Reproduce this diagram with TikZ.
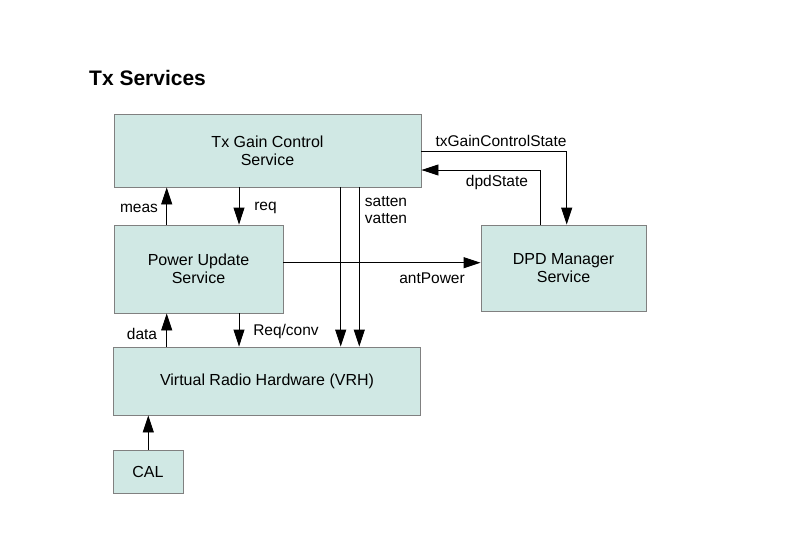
\documentclass[tikz,border=0pt]{standalone}
\usepackage{fontspec}
\setmainfont{Liberation Sans}
\usetikzlibrary{arrows.meta}
\definecolor{boxfill}{RGB}{208,232,228}
\definecolor{boxline}{RGB}{128,128,128}
\tikzset{
  box/.style={draw=boxline, fill=boxfill, line width=0.9pt, align=center, inner sep=0pt,
    font=\fontsize{16}{18.3}\selectfont},
  arr/.style={draw=black, line width=0.9pt, -{Triangle[length=17pt,width=11pt]}},
  lbl/.style={inner sep=0pt, font=\fontsize{15.5}{17}\selectfont},
}
\begin{document}
\begin{tikzpicture}[x=1pt,y=-1pt]
\useasboundingbox (0,0) rectangle (794,559);
\fill[white] (0,0) rectangle (794,559);
\node[inner sep=0pt, anchor=base west, font=\fontsize{21}{24}\selectfont\bfseries] (title) at (89,86) {Tx Services};

\node[box, minimum width=307pt, minimum height=73pt] (txg) at (267.5,150.5) {Tx Gain Control\\Service};
\node[box, minimum width=169pt, minimum height=88pt] (pus) at (198.5,269) {Power Update\\Service};
\node[box, minimum width=165pt, minimum height=86pt] (dpd) at (563.5,268) {DPD Manager\\Service};
\node[box, minimum width=307pt, minimum height=68pt] (vrh) at (267,381) {Virtual Radio Hardware (VRH)};
\node[box, minimum width=70pt, minimum height=43pt] (cal) at (148,471.5) {CAL};

\coordinate (xa) at (166.7,0);
\coordinate (xb) at (239,0);
\coordinate (xc) at (340.7,0);
\coordinate (xd) at (359.3,0);
\coordinate (xe) at (566.7,0);
\coordinate (xf) at (540.7,0);
\coordinate (xg) at (148.3,0);
\coordinate (ya) at (0,151.7);
\coordinate (yb) at (0,170);
\coordinate (yc) at (0,262.7);

% meas
\draw[arr] (pus.north -| xa) -- (txg.south -| xa);
% req
\draw[arr] (txg.south -| xb) -- (pus.north -| xb);
% satten / vatten
\draw[arr] (txg.south -| xc) -- (vrh.north -| xc);
\draw[arr] (txg.south -| xd) -- (vrh.north -| xd);
% txGainControlState
\draw[arr] (txg.east |- ya) -| (dpd.north -| xe);
% dpdState
\draw[arr] (dpd.north -| xf) |- (txg.east |- yb);
% antPower
\draw[arr] (pus.east |- yc) -- (dpd.west |- yc);
% data
\draw[arr] (vrh.north -| xa) -- (pus.south -| xa);
% Req/conv
\draw[arr] (pus.south -| xb) -- (vrh.north -| xb);
% CAL
\draw[arr] (cal.north -| xg) -- (vrh.south -| xg);

\node[lbl] (lmeas) at (139,208) {meas};
\node[lbl] (lreq) at (265.5,208) {req};
\node[lbl, align=left, font=\fontsize{15.5}{16.5}\selectfont] (lsat) at (386,210) {satten\\vatten};
\node[lbl] (ltx) at (501,141) {txGainControlState};
\node[lbl] (ldpd) at (497,182) {dpdState};
\node[lbl] (lant) at (432,278) {antPower};
\node[lbl] (ldata) at (142,334) {data};
\node[lbl] (lreqc) at (286,331) {Req/conv};
\end{tikzpicture}
\end{document}
